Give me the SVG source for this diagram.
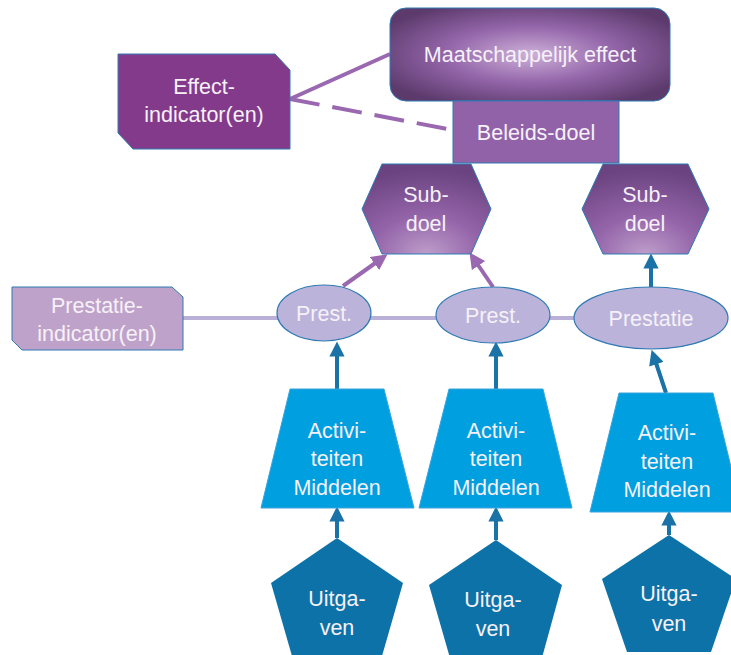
<svg xmlns="http://www.w3.org/2000/svg" width="731" height="655" viewBox="0 0 731 655">
<defs>
<radialGradient id="gEff" cx="50%" cy="50%" r="60%">
<stop offset="0" stop-color="#cdb0d8"/>
<stop offset="0.5" stop-color="#9466aa"/>
<stop offset="1" stop-color="#5c3a6c"/>
</radialGradient>
<radialGradient id="gHex" cx="50%" cy="100%" r="95%">
<stop offset="0" stop-color="#bd9dca"/>
<stop offset="0.45" stop-color="#9464a9"/>
<stop offset="1" stop-color="#6a4380"/>
</radialGradient>
<marker id="ap" viewBox="0 0 10 10" refX="5" refY="5" markerWidth="4" markerHeight="4" orient="auto" markerUnits="strokeWidth">
<path d="M0,0 L10,5 L0,10 z" fill="#9a68b0"/>
</marker>
<marker id="ab" viewBox="0 0 10 10" refX="5" refY="5" markerWidth="3.8" markerHeight="3.8" orient="auto" markerUnits="strokeWidth">
<path d="M0,0 L10,5 L0,10 z" fill="#1a72a6"/>
</marker>
</defs>
<style>
text{font-family:"Liberation Sans",Arial,sans-serif;font-size:21.5px;fill:#f6f1f8;text-anchor:middle}
.ol{stroke:#2f7ab3;stroke-width:1}
.ell{fill:#bbb3d9;stroke:#2f7ab3;stroke-width:1.2}
.trap{fill:#009fdf;stroke:#3aa3dc;stroke-width:1}
.pent{fill:#0d72a7}
.bl{stroke:#1a72a6;stroke-width:4;fill:none}
.pu{stroke:#9a68b0;stroke-width:4;fill:none}
</style>
<g id="connectors">
<line class="pu" x1="290" y1="99" x2="390" y2="54"/>
<line class="pu" x1="290" y1="99" x2="453" y2="130" stroke-dasharray="30,13"/>
<line x1="183" y1="318" x2="575" y2="318" stroke="#b9b0d8" stroke-width="4"/>
<line class="pu" x1="343" y1="286" x2="381" y2="259" marker-end="url(#ap)"/>
<line class="pu" x1="493" y1="287" x2="474" y2="259" marker-end="url(#ap)"/>
<line class="bl" x1="651" y1="287" x2="651" y2="261" marker-end="url(#ab)"/>
<line class="bl" x1="337" y1="389" x2="337" y2="349" marker-end="url(#ab)"/>
<line class="bl" x1="496" y1="389" x2="496" y2="349" marker-end="url(#ab)"/>
<line class="bl" x1="666" y1="393" x2="654" y2="357" marker-end="url(#ab)"/>
<line class="bl" x1="337" y1="538" x2="337" y2="514" marker-end="url(#ab)"/>
<line class="bl" x1="496" y1="540" x2="496" y2="514" marker-end="url(#ab)"/>
<line class="bl" x1="669" y1="535" x2="669" y2="518" marker-end="url(#ab)"/>
</g>
<g id="maatschappelijk-effect">
<rect x="390" y="8" width="280" height="93" rx="16" fill="url(#gEff)" class="ol"/>
<text x="530" y="62">Maatschappelijk effect</text>
</g>
<g id="beleids-doel">
<rect x="453" y="101" width="166" height="62" fill="#9262a8" class="ol"/>
<text x="536" y="140">Beleids-doel</text>
</g>
<g id="effect-indicator">
<path d="M118,54 H275 L290,70 V149 H133 L118,133 Z" fill="#843a8a" class="ol"/>
<text x="204" y="94">Effect-</text>
<text x="204" y="122">indicator(en)</text>
</g>
<g id="subdoel-1">
<path d="M382,164 H471 L491,209 L471,254 H382 L362,209 Z" fill="url(#gHex)" class="ol"/>
<text x="426" y="202">Sub-</text>
<text x="426" y="231">doel</text>
</g>
<g id="subdoel-2">
<path d="M603,164 H688 L709,209 L688,254 H603 L582,209 Z" fill="url(#gHex)" class="ol"/>
<text x="645" y="202">Sub-</text>
<text x="645" y="231">doel</text>
</g>
<g id="prestatie-indicator">
<path d="M12,287 H172 L183,297 V350 H22 L12,340 Z" fill="#bfa2c9" class="ol"/>
<text x="97" y="313">Prestatie-</text>
<text x="97" y="341">indicator(en)</text>
</g>
<g id="prest-1">
<ellipse cx="324" cy="313" rx="47" ry="28" class="ell"/>
<text x="324" y="321">Prest.</text>
</g>
<g id="prest-2">
<ellipse cx="493" cy="315" rx="57" ry="28" class="ell"/>
<text x="493" y="323">Prest.</text>
</g>
<g id="prestatie">
<ellipse cx="651" cy="318" rx="77" ry="31" class="ell"/>
<text x="651" y="326">Prestatie</text>
</g>
<g id="activiteiten-1">
<path d="M290,389 H384 L414,508 H261 Z" class="trap"/>
<text x="337" y="438">Activi-</text>
<text x="337" y="466">teiten</text>
<text x="337" y="495">Middelen</text>
</g>
<g id="activiteiten-2">
<path d="M449,389 H543 L572,508 H419 Z" class="trap"/>
<text x="496" y="438">Activi-</text>
<text x="496" y="466">teiten</text>
<text x="496" y="495">Middelen</text>
</g>
<g id="activiteiten-3">
<path d="M619,393 H713 L742,512 H590 Z" class="trap"/>
<text x="667" y="440">Activi-</text>
<text x="667" y="469">teiten</text>
<text x="667" y="497">Middelen</text>
</g>
<g id="uitgaven-1">
<path d="M337,538 L403,583 L380,663 H294 L271,583 Z" class="pent"/>
<text x="337" y="606">Uitga-</text>
<text x="337" y="635">ven</text>
</g>
<g id="uitgaven-2">
<path d="M496,540 L562,585 L540,665 H452 L429,585 Z" class="pent"/>
<text x="493" y="607">Uitga-</text>
<text x="493" y="636">ven</text>
</g>
<g id="uitgaven-3">
<path d="M669,535 L736,579 L711,652 H627 L602,579 Z" class="pent"/>
<text x="669" y="601">Uitga-</text>
<text x="669" y="631">ven</text>
</g>
</svg>
